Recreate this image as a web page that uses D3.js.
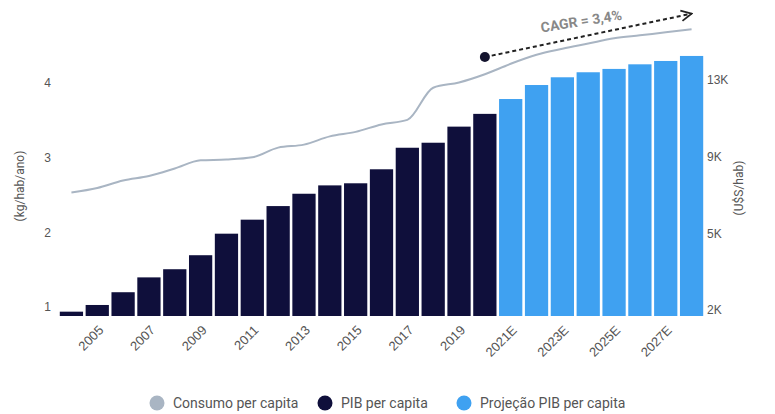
<!DOCTYPE html>
<html>
<head>
<meta charset="utf-8">
<script src="https://cdn.jsdelivr.net/npm/d3@7"></script>
<style>
  body { margin: 0; background: #fff; }
  svg { font-family: Roboto, "Noto Sans", sans-serif; }
</style>
</head>
<body>
<svg id="chart"></svg>
<script>
const years = ['2004','2005','2006','2007','2008','2009','2010','2011','2012','2013','2014','2015','2016',
  '2017','2018','2019','2020','2021E','2022E','2023E','2024E','2025E','2026E','2027E','2028E'];
const tickLabels = ['2005','2007','2009','2011','2013','2015','2017','2019','2021E','2023E','2025E','2027E'];

// PIB per capita (US$/hab)
const pib = [1920, 2240, 2850, 3560, 3950, 4620, 5650, 6320, 6970, 7560, 7960, 8060, 8730,
  9760, 10000, 10770, 11380];
// Projeção PIB per capita
const pibProj = [12090, 12760, 13130, 13370, 13530, 13750, 13910, 14150];
// Consumo per capita (kg/hab/ano)
const consumo = [2.53, 2.59, 2.69, 2.75, 2.85, 2.96, 2.97, 3.00, 3.13, 3.17, 3.28, 3.34, 3.44,
  3.50, 3.93, 4.00, 4.11, 4.25, 4.37, 4.45, 4.52, 4.59, 4.63, 4.67, 4.71];

const leftTicks = [1, 2, 3, 4];
const rightTicks = [2000, 5667, 9333, 13000];
const rightTickLabels = ['2K', '5K', '9K', '13K'];

const width = 775, height = 414;
const plotBottom = 316;
const colDark = '#0f0f3b', colLight = '#3fa1f1', colLine = '#a9b5c3';

const svg = d3.select('#chart').attr('width', width).attr('height', height);

const x = d3.scaleBand().domain(years).range([58.5, 704.5]).paddingInner(0.1).paddingOuter(0.05);
const yLeft = d3.scaleLinear().domain([1, 4]).range([307, 82.5]);
const yRight = d3.scaleLinear().domain([2000, 13000]).range([310, 80]);

const barData = pib.map((v, i) => ({year: years[i], v, proj: false}))
  .concat(pibProj.map((v, i) => ({year: years[pib.length + i], v, proj: true})));

svg.append('g').selectAll('rect')
  .data(barData)
  .enter()
  .append('rect')
  .attr('x', d => x(d.year))
  .attr('width', x.bandwidth())
  .attr('y', d => yRight(d.v))
  .attr('height', d => plotBottom - yRight(d.v))
  .attr('fill', d => d.proj ? colLight : colDark);

// consumo line
const line = d3.line()
  .x((d, i) => x(years[i]) + x.bandwidth() / 2)
  .y(d => yLeft(d))
  .curve(d3.curveMonotoneX);

svg.append('path')
  .datum(consumo)
  .attr('d', line)
  .attr('fill', 'none')
  .attr('stroke', colLine)
  .attr('stroke-width', 2);

// left axis
const leftAxis = svg.append('g')
  .attr('transform', 'translate(51,0)')
  .call(d3.axisLeft(yLeft).tickValues(leftTicks).tickSize(0).tickPadding(0).tickFormat(d3.format('d')));
leftAxis.select('.domain').remove();
leftAxis.selectAll('text').attr('fill', '#555').style('font-size', '12px');

// right axis
const rightAxis = svg.append('g')
  .attr('transform', 'translate(707,0)')
  .call(d3.axisRight(yRight).tickValues(rightTicks).tickSize(0).tickPadding(0)
    .tickFormat((d, i) => rightTickLabels[i]));
rightAxis.select('.domain').remove();
rightAxis.selectAll('text').attr('fill', '#555').style('font-size', '12px');

// x axis
const xAxis = svg.append('g')
  .attr('transform', `translate(0,${plotBottom})`)
  .call(d3.axisBottom(x).tickValues(tickLabels).tickSize(0).tickPadding(0));
xAxis.select('.domain').remove();
xAxis.selectAll('text')
  .attr('fill', '#555')
  .style('font-size', '13px')
  .style('font-weight', '500')
  .attr('text-anchor', 'end')
  .attr('dy', 0)
  .attr('transform', 'translate(7,15) rotate(-45)');

// axis titles
svg.append('text')
  .attr('transform', 'translate(24,186) rotate(-90)')
  .attr('text-anchor', 'middle')
  .attr('fill', '#555')
  .style('font-size', '12px')
  .text('(kg/hab/ano)');

svg.append('text')
  .attr('transform', 'translate(743,188) rotate(-90)')
  .attr('text-anchor', 'middle')
  .attr('fill', '#555')
  .style('font-size', '12px')
  .text('(U$S/hab)');

// CAGR annotation
const ax0 = x('2020') + x.bandwidth() / 2, ay0 = yLeft(4.34);
const ax1 = x('2028E') + x.bandwidth() / 2, ay1 = yLeft(4.92);
svg.append('defs').append('marker')
  .attr('id', 'arrow')
  .attr('viewBox', '0 0 10 10')
  .attr('refX', 9).attr('refY', 5)
  .attr('markerWidth', 6.5).attr('markerHeight', 6.5)
  .attr('markerUnits', 'strokeWidth')
  .attr('orient', 'auto')
  .append('path')
  .attr('d', 'M1,1 L9,5 L1,9')
  .attr('fill', 'none')
  .attr('stroke', '#222')
  .attr('stroke-width', 1.4);

svg.append('line')
  .attr('x1', ax0).attr('y1', ay0)
  .attr('x2', ax1).attr('y2', ay1)
  .attr('stroke', '#222')
  .attr('stroke-width', 2)
  .attr('stroke-dasharray', '4,3')
  .attr('marker-end', 'url(#arrow)');

svg.append('circle')
  .attr('cx', ax0).attr('cy', ay0).attr('r', 5)
  .attr('fill', '#14142e');

svg.append('text')
  .attr('transform', 'translate(582,26) rotate(-9)')
  .attr('text-anchor', 'middle')
  .attr('fill', '#888')
  .style('font-size', '14px')
  .style('font-weight', 'bold')
  .text('CAGR = 3,4%');

// legend
const legendItems = [
  {label: 'Consumo per capita', color: colLine, x: 157},
  {label: 'PIB per capita', color: colDark, x: 325},
  {label: 'Projeção PIB per capita', color: colLight, x: 464}
];
const legend = svg.append('g').attr('transform', 'translate(0,403)');
legend.selectAll('circle')
  .data(legendItems)
  .enter()
  .append('circle')
  .attr('cx', d => d.x).attr('cy', 0).attr('r', 7.5)
  .attr('fill', d => d.color);
legend.selectAll('text')
  .data(legendItems)
  .enter()
  .append('text')
  .attr('x', d => d.x + 16).attr('y', 0)
  .attr('dy', '0.35em')
  .attr('fill', '#555')
  .style('font-size', '14px')
  .text(d => d.label);
</script>
</body>
</html>
